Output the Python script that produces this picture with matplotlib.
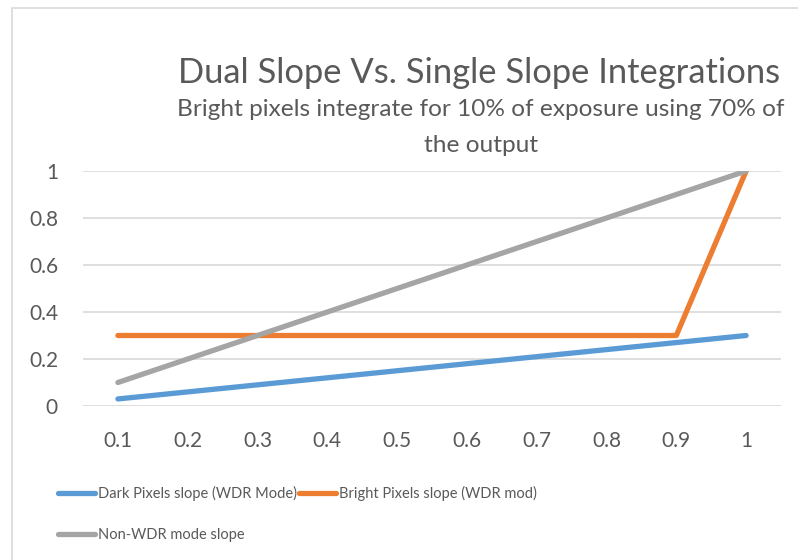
import matplotlib
matplotlib.use("Agg")
import matplotlib.pyplot as plt
from matplotlib.patches import Rectangle

# 데이터
categories = ["0.1", "0.2", "0.3", "0.4", "0.5", "0.6", "0.7", "0.8", "0.9", "1"]
dark_slope = [0.03, 0.06, 0.09, 0.12, 0.15, 0.18, 0.21, 0.24, 0.27, 0.30]
bright_slope = [0.3, 0.3, 0.3, 0.3, 0.3, 0.3, 0.3, 0.3, 0.3, 1.0]
non_wdr_slope = [0.1, 0.2, 0.3, 0.4, 0.5, 0.6, 0.7, 0.8, 0.9, 1.0]
y_ticks = [0, 0.2, 0.4, 0.6, 0.8, 1]
y_tick_labels = ["0", "0.2", "0.4", "0.6", "0.8", "1"]

plt.rcParams['font.family'] = ['Lato', 'DejaVu Sans']
text_color = '#595959'

W, H = 798, 560
fig = plt.figure(figsize=(W / 100, H / 100), dpi=100)

# 차트 테두리
fig.patches.append(Rectangle((12 / W, -0.1), 1.2, 1.1 - 8 / H, transform=fig.transFigure,
                             fill=False, edgecolor='#d9d9d9', linewidth=1.2))

left, right, top, bottom = 83, 781, 171, 406
ax = fig.add_axes([left / W, 1 - bottom / H, (right - left) / W, (bottom - top) / H])

x = list(range(len(categories)))
line_kw = dict(linewidth=3.8, solid_capstyle='round', solid_joinstyle='round')
l_dark, = ax.plot(x, dark_slope, color='#5b9bd5', label='Dark Pixels slope (WDR Mode)', **line_kw)
l_bright, = ax.plot(x, bright_slope, color='#ed7d31', label='Bright Pixels slope (WDR mod)', **line_kw)
l_gray, = ax.plot(x, non_wdr_slope, color='#a5a5a5', label='Non-WDR mode slope', **line_kw)

ax.set_xlim(-0.5, len(categories) - 0.5)
ax.set_ylim(0, 1)
ax.set_xticks(x)
ax.set_xticklabels(categories)
ax.set_yticks(y_ticks)
ax.set_yticklabels(y_tick_labels)
ax.tick_params(length=0, labelsize=15, labelcolor=text_color)
ax.tick_params(axis='y', pad=18)
ax.tick_params(axis='x', pad=18)
ax.grid(axis='y', color='#d9d9d9', linewidth=1.2)
ax.set_axisbelow(True)
for s in ax.spines.values():
    s.set_visible(False)

# 제목
fig.text(479 / W, 1 - 73 / H, 'Dual Slope Vs. Single Slope Integrations',
         ha='center', va='center', fontsize=24.8, color=text_color)
fig.text(481 / W, 1 - 110 / H, 'Bright pixels integrate for 10% of exposure using 70% of',
         ha='center', va='center', fontsize=17.6, color=text_color)
fig.text(481 / W, 1 - 145 / H, 'the output',
         ha='center', va='center', fontsize=17.6, color=text_color)

# 범례
leg = fig.legend(handles=[l_dark, l_gray, l_bright], ncol=2, loc='upper left',
                 bbox_to_anchor=(45 / W, 1 - 473 / H), frameon=False,
                 fontsize=10.5, labelcolor=text_color, handlelength=2.55,
                 handletextpad=0.2, columnspacing=0.1, labelspacing=1.85)

fig.savefig('out.png', dpi=100)
